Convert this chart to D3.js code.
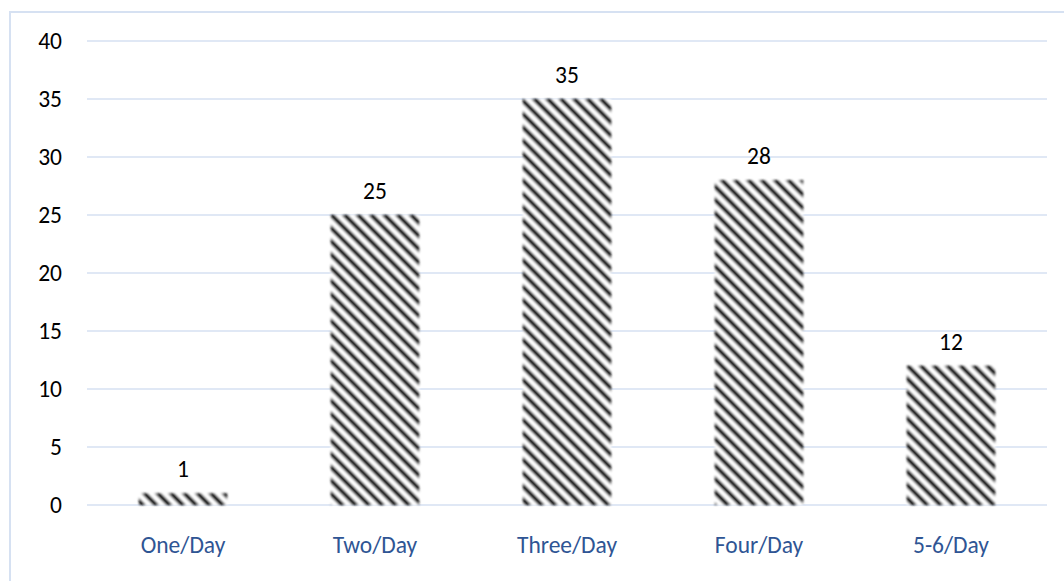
<!DOCTYPE html>
<html>
<head>
<meta charset="utf-8">
<script src="https://cdn.jsdelivr.net/npm/d3@7/dist/d3.min.js"></script>
<style>
  html, body { margin: 0; padding: 0; background: #fff; }
  svg { display: block; }
</style>
</head>
<body>
<svg id="chart" width="1064" height="581"></svg>
<script>
// Meals per day frequency
const categories = ["One/Day", "Two/Day", "Three/Day", "Four/Day", "5-6/Day"];
const values = [1, 25, 35, 28, 12];
const yTicks = [0, 5, 10, 15, 20, 25, 30, 35, 40];

const W = 1064, H = 581;
const margin = { left: 87, right: 17, top: 41, bottom: 76 };
const fontFamily = "Carlito, 'Open Sans', Lato, sans-serif";
const fontSize = 23.5;

const svg = d3.select("#chart");

const defs = svg.append("defs");
const pat = defs.append("pattern")
  .attr("id", "hatch")
  .attr("patternUnits", "userSpaceOnUse")
  .attr("width", 9.4).attr("height", 9.4)
  .attr("patternTransform", "rotate(45)");
pat.append("rect").attr("width", 9.4).attr("height", 9.4).attr("fill", "#fff");
pat.append("rect").attr("width", 9.4).attr("height", 4.4).attr("fill", "#000");

const blur = defs.append("filter").attr("id", "soft")
  .attr("x", "-10%").attr("y", "-10%").attr("width", "120%").attr("height", "120%");
blur.append("feGaussianBlur").attr("stdDeviation", 1.0);

// Outer chart frame
svg.append("rect")
  .attr("x", 10).attr("y", 12)
  .attr("width", W + 20).attr("height", H + 20)
  .attr("fill", "none")
  .attr("stroke", "#d6e1f2")
  .attr("stroke-width", 2);

const x = d3.scaleBand()
  .domain(categories)
  .range([margin.left, W - margin.right])
  .paddingInner(0.54)
  .paddingOuter(0.27);

const y = d3.scaleLinear()
  .domain([0, 40])
  .range([H - margin.bottom, margin.top]);

// Horizontal gridlines
svg.append("g")
  .selectAll("line")
  .data(yTicks)
  .join("line")
  .attr("x1", margin.left)
  .attr("x2", W - margin.right)
  .attr("y1", d => y(d))
  .attr("y2", d => y(d))
  .attr("stroke", "#d6e1f2")
  .attr("stroke-width", 1.6);

// Y axis labels
const yAxis = d3.axisLeft(y).tickValues(yTicks).tickSize(0).tickPadding(0);
const gy = svg.append("g")
  .attr("transform", `translate(${margin.left - 25},0)`)
  .call(yAxis);
gy.select(".domain").remove();
gy.selectAll("text")
  .attr("font-family", fontFamily)
  .attr("font-size", fontSize)
  .attr("fill", "#000");

// X axis labels
const xAxis = d3.axisBottom(x).tickSize(0).tickPadding(0);
const gx = svg.append("g")
  .attr("transform", `translate(0,${y(0) + 31})`)
  .call(xAxis);
gx.select(".domain").remove();
gx.selectAll("text")
  .attr("font-family", fontFamily)
  .attr("font-size", fontSize)
  .attr("fill", "#2f5594");

// Bars
svg.append("g")
  .attr("filter", "url(#soft)")
  .selectAll("rect")
  .data(values)
  .join("rect")
  .attr("x", (d, i) => x(categories[i]))
  .attr("width", x.bandwidth())
  .attr("y", d => y(d))
  .attr("height", d => y(0) - y(d))
  .attr("fill", "url(#hatch)");

// Value labels
svg.append("g")
  .selectAll("text")
  .data(values)
  .join("text")
  .attr("x", (d, i) => x(categories[i]) + x.bandwidth() / 2)
  .attr("y", d => y(d) - 16)
  .attr("text-anchor", "middle")
  .attr("font-family", fontFamily)
  .attr("font-size", fontSize)
  .attr("fill", "#000")
  .text(d => d);
</script>
</body>
</html>
